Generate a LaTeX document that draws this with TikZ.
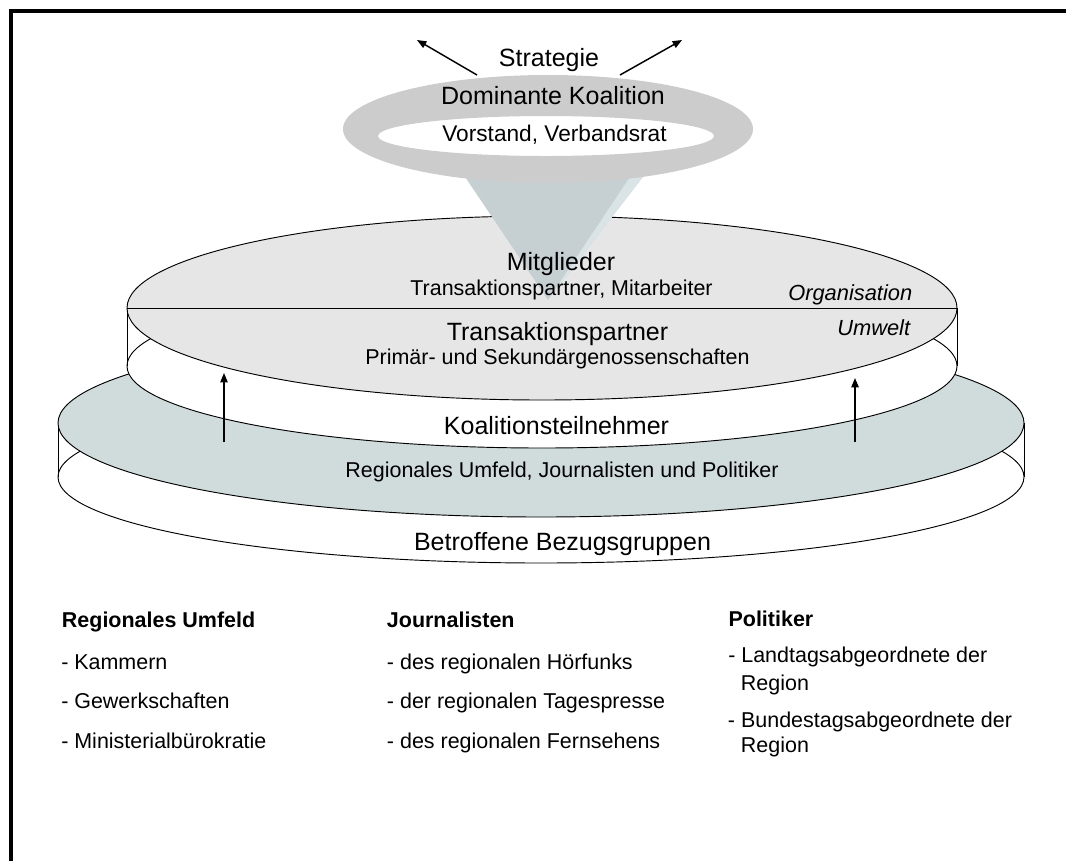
\documentclass[tikz,border=0pt]{standalone}
\usepackage{fontspec}
\setmainfont{Liberation Sans}
\usetikzlibrary{arrows.meta}
\definecolor{orgfill}{RGB}{230,230,230}
\definecolor{envfill}{RGB}{208,220,220}
\definecolor{ringfill}{RGB}{204,204,204}
\definecolor{conefill}{RGB}{198,208,210}
\definecolor{conelight}{RGB}{218,228,230}
\begin{document}
\begin{tikzpicture}[x=0.75pt,y=-0.75pt,
  rim/.style={draw=black,line width=0.7pt},
  bigtxt/.style={inner sep=0,anchor=base,font=\fontsize{18.75}{22}\selectfont},
  midtxt/.style={inner sep=0,anchor=base,font=\fontsize{16.1}{19}\selectfont},
  zonetxt/.style={inner sep=0,anchor=base west,font=\fontsize{16.4}{19}\selectfont\itshape},
  listtxt/.style={inner sep=0,anchor=base west,font=\fontsize{16.1}{19}\selectfont},
  listhead/.style={inner sep=0,anchor=base west,font=\fontsize{16.1}{19}\selectfont\bfseries},
  flow/.style={-{Triangle[length=7pt,width=5.5pt]},line width=1.1pt}]

\useasboundingbox (0,0) rectangle (1066,861);

% frame (top and left edges)
\draw[line width=3pt,line join=miter] (11,861) -- (11,11.3) -- (1066,11.3);

% lower disk: environment
\fill[white] (58,423) rectangle (1024,477);
\draw[rim,fill=white] (541,477) ellipse [x radius=483,y radius=86];
\draw[rim] (58,423) -- (58,477) (1024,423) -- (1024,477);
\draw[rim,fill=envfill] (541,423) ellipse [x radius=483,y radius=94];

% upper disk: organisation
\fill[white] (127,308) rectangle (957,366);
\draw[rim,fill=white] (542,366) ellipse [x radius=415,y radius=82];
\draw[rim] (127,308) -- (127,366) (957,308) -- (957,366);
\draw[rim,fill=orgfill] (542,308) ellipse [x radius=415,y radius=92];
\draw[rim] (127,308) -- (957,308);

% funnel cone
\fill[conefill] (457,165) -- (652,165) -- (548,300) -- cycle;
\fill[conelight] (638,165) -- (652,165) -- (548,300) -- cycle;

% ring of the dominant coalition
\fill[ringfill,even odd rule] (548,129) ellipse [x radius=205,y radius=54]
  (546,136) ellipse [x radius=168,y radius=20];

% strategy arrows
\coordinate (sl0) at (477,75);
\coordinate (sl1) at (417,40);
\coordinate (sr0) at (620,75);
\coordinate (sr1) at (682,40);
\draw[flow] (sl0) -- (sl1);
\draw[flow] (sr0) -- (sr1);

% influence arrows
\coordinate (al0) at (224,442);
\coordinate (al1) at (224,373);
\coordinate (ar0) at (855,442);
\coordinate (ar1) at (855,378);
\draw[flow] (al0) -- (al1);
\draw[flow] (ar0) -- (ar1);

% labels in the diagram
\node[bigtxt] (strat) at (549,66) {Strategie};
\node[bigtxt] (domk) at (553,104.5) {Dominante Koalition};
\node[bigtxt,font=\fontsize{17}{20}\selectfont] (vorst) at (554.5,141.7) {Vorstand, Verbandsrat};
\node[bigtxt] (mitgl) at (561,270) {Mitglieder};
\node[midtxt] (mitsub) at (561.5,295) {Transaktionspartner, Mitarbeiter};
\node[zonetxt] (orgn) at (788,300) {Organisation};
\node[bigtxt] (trans) at (557.5,340) {Transaktionspartner};
\node[zonetxt] (umw) at (837,335) {Umwelt};
\node[midtxt] (transsub) at (557.5,364) {Primär- und Sekundärgenossenschaften};
\node[bigtxt] (koal) at (556.5,434) {Koalitionsteilnehmer};
\node[midtxt] (koalsub) at (562,477) {Regionales Umfeld, Journalisten und Politiker};
\node[bigtxt] (betr) at (562.5,550) {Betroffene Bezugsgruppen};

% lists below
\node[listhead] (h1) at (61.7,627) {Regionales Umfeld};
\node[listtxt] (h1a) at (61,669) {- Kammern};
\node[listtxt] (h1b) at (61,708) {- Gewerkschaften};
\node[listtxt] (h1c) at (61,748) {- Ministerialbürokratie};

\node[listhead] (h2) at (386.7,627) {Journalisten};
\node[listtxt] (h2a) at (386.7,669) {- des regionalen Hörfunks};
\node[listtxt] (h2b) at (386.7,708) {- der regionalen Tagespresse};
\node[listtxt] (h2c) at (386.7,748) {- des regionalen Fernsehens};

\node[listhead] (h3) at (728.3,626) {Politiker};
\node[listtxt] (h3a) at (728,662) {- Landtagsabgeordnete der};
\node[listtxt] (h3b) at (740.7,690) {Region};
\node[listtxt] (h3c) at (727.7,727) {- Bundestagsabgeordnete der};
\node[listtxt] (h3d) at (740.7,752) {Region};
\end{tikzpicture}
\end{document}
